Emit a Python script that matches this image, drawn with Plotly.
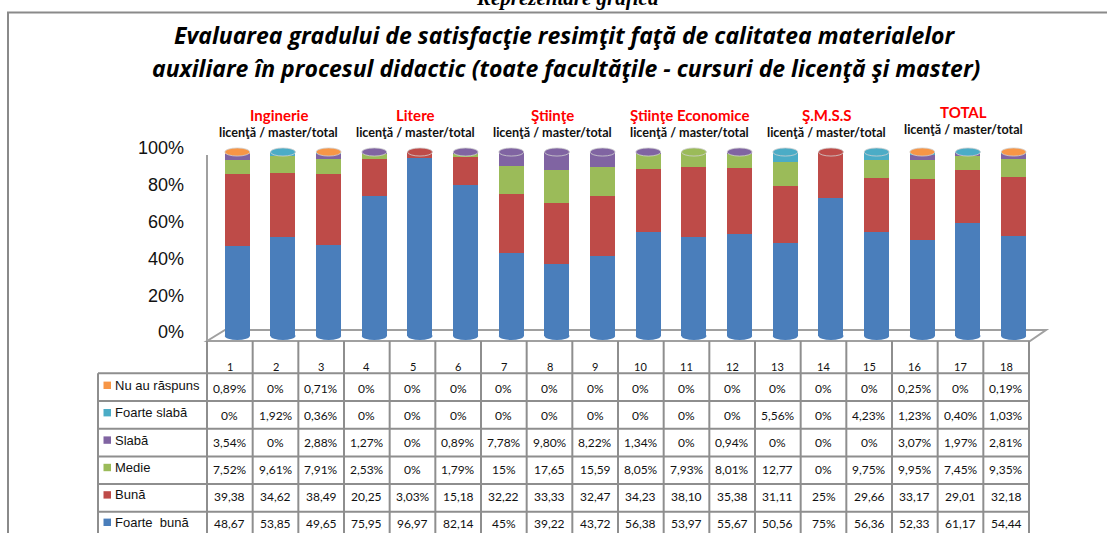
import plotly.graph_objects as go

# ---------------- data ----------------
categories = list(range(1, 19))
series_names = ["Nu au răspuns", "Foarte slabă", "Slabă", "Medie", "Bună", "Foarte  bună"]
nu_au_raspuns = [0.89, 0, 0.71, 0, 0, 0, 0, 0, 0, 0, 0, 0, 0, 0, 0, 0.25, 0, 0.19]
foarte_slaba = [0, 1.92, 0.36, 0, 0, 0, 0, 0, 0, 0, 0, 0, 5.56, 0, 4.23, 1.23, 0.40, 1.03]
slaba = [3.54, 0, 2.88, 1.27, 0, 0.89, 7.78, 9.80, 8.22, 1.34, 0, 0.94, 0, 0, 0, 3.07, 1.97, 2.81]
medie = [7.52, 9.61, 7.91, 2.53, 0, 1.79, 15, 17.65, 15.59, 8.05, 7.93, 8.01, 12.77, 0, 9.75, 9.95, 7.45, 9.35]
buna = [39.38, 34.62, 38.49, 20.25, 3.03, 15.18, 32.22, 33.33, 32.47, 34.23, 38.10, 35.38, 31.11, 25, 29.66, 33.17, 29.01, 32.18]
foarte_buna = [48.67, 53.85, 49.65, 75.95, 96.97, 82.14, 45, 39.22, 43.72, 56.38, 53.97, 55.67, 50.56, 75, 56.36, 52.33, 61.17, 54.44]
series_values = [nu_au_raspuns, foarte_slaba, slaba, medie, buna, foarte_buna]
series_colors = ["#F79646", "#4BACC6", "#8064A2", "#9BBB59", "#BE4B48", "#4A7EBB"]
group_names = ["Inginerie", "Litere", "Ştiinţe", "Ştiinţe Economice", "Ş.M.S.S", "TOTAL"]
group_centers = [2, 5, 8, 11, 14, 17]
group_sub = "licenţă / master/total"
y_ticks = [0, 20, 40, 60, 80, 100]
y_tick_labels = ["0%", "20%", "40%", "60%", "80%", "100%"]
title_line1 = "Evaluarea gradului de satisfacţie resimţit faţă de calitatea materialelor"
title_line2 = "auxiliare în procesul didactic (toate facultăţile - cursuri de licenţă şi master)"
top_caption = "Reprezentare grafică"

# ---------------- geometry ----------------
W, H = 1107, 533
L, R = 207, 1029          # plot x extent (px)
T, B = 146, 341           # plot y extent (px)
PX_PER_UNIT = 1.84        # px per percent
Y0_PX = 336               # pixel of 0%
y_top = (Y0_PX - T) / PX_PER_UNIT
y_bot = (Y0_PX - B) / PX_PER_UNIT
BAR_W = 0.547
BAR_OFF = -0.11
GRID = "#8E8E8E"


def px_x(px):
    return (px - L) / (R - L)


def px_y(py):
    return (B - py) / (B - T)


def cat_x(c):
    return (c - 0.5) / len(categories)


def fmt(v):
    if float(v).is_integer():
        return f"{int(v)}%"
    s = f"{v:.2f}".replace(".", ",")
    return s if v >= 10 else s + "%"


fig = go.Figure()
# stacked bars: bottom = Foarte bună
for name, vals, col in reversed(list(zip(series_names, series_values, series_colors))):
    fig.add_trace(go.Bar(x=categories, y=vals, name=name, marker=dict(color=col, line=dict(width=0)),
                         width=BAR_W, offset=BAR_OFF, showlegend=False, hoverinfo="skip"))

shapes = []
# outer border
shapes.append(dict(type="rect", xref="paper", yref="paper", x0=px_x(8), x1=px_x(1150),
                   y0=px_y(12.5), y1=px_y(600), line=dict(color="#8A8A8A", width=2), layer="below"))
# floor
fl = [(207, 341), (225, 330), (1046, 330), (1030, 341)]
path = "M " + " L ".join(f"{px_x(a):.5f},{px_y(b):.5f}" for a, b in fl) + " Z"
shapes.append(dict(type="path", xref="paper", yref="paper", path=path,
                   line=dict(color="#A0A0A0", width=2), fillcolor="#FFFFFF", layer="below"))
# y axis line
shapes.append(dict(type="line", xref="paper", yref="paper", x0=px_x(207), x1=px_x(207),
                   y0=px_y(155), y1=px_y(341), line=dict(color="#A0A0A0", width=2), layer="below"))
# bottom ellipses and top ellipses
for i, c in enumerate(categories):
    shapes.append(dict(type="circle", xref="x", yref="y", x0=c + BAR_OFF, x1=c + BAR_OFF + BAR_W,
                       y0=-2.2, y1=2.2, fillcolor=series_colors[-1], line=dict(width=0), layer="below"))
    top_col = series_colors[-1]
    for vals, col in zip(series_values, series_colors):
        if vals[i] > 0:
            top_col = col
            break
    shapes.append(dict(type="circle", xref="x", yref="y", x0=c + BAR_OFF, x1=c + BAR_OFF + BAR_W,
                       y0=100 - 2.2, y1=100 + 2.2, fillcolor=top_col,
                       line=dict(width=0.8, color="#D0D0D0"), layer="above"))

# table grid
ROW_TOP = 373.3
ROW_H = 27.7
TEXT_Y0, TEXT_STEP = 388.3, 27.0
LABEL_Y0, LABEL_STEP = 385.3, 27.4
for k in range(len(categories) + 1):
    xx = cat_x(k + 0.5)
    shapes.append(dict(type="line", xref="paper", yref="paper", x0=xx, x1=xx, y0=px_y(341), y1=px_y(545),
                       line=dict(color=GRID, width=2)))
shapes.append(dict(type="line", xref="paper", yref="paper", x0=px_x(98), x1=px_x(98),
                   y0=px_y(ROW_TOP), y1=px_y(545), line=dict(color=GRID, width=2)))
for r in range(len(series_names)):
    yy = px_y(ROW_TOP + r * ROW_H)
    shapes.append(dict(type="line", xref="paper", yref="paper", x0=px_x(98), x1=cat_x(18.5),
                       y0=yy, y1=yy, line=dict(color=GRID, width=2)))

ann = []
cal = "Lato, Carlito, Calibri, sans-serif"
# header numbers
for c in categories:
    ann.append(dict(x=c, xref="x", y=px_y(366), yref="paper", text=str(c), showarrow=False,
                    font=dict(family=cal, size=11, color="#111111"), xanchor="center", yanchor="middle"))
# rows
for r, (name, vals, col) in enumerate(zip(series_names, series_values, series_colors)):
    ty = TEXT_Y0 + r * TEXT_STEP
    ly = LABEL_Y0 + r * LABEL_STEP
    shapes.append(dict(type="rect", xref="paper", yref="paper", x0=px_x(103.5), x1=px_x(111),
                       y0=px_y(ly + 3.7), y1=px_y(ly - 3.7), fillcolor=col, line=dict(width=0)))
    ann.append(dict(x=px_x(113), xref="paper", y=px_y(ly), yref="paper", text=name, showarrow=False,
                    font=dict(family="Liberation Sans, Arial", size=13, color="#111111"),
                    xanchor="left", yanchor="middle"))
    for c, v in zip(categories, vals):
        ann.append(dict(x=c, xref="x", y=px_y(ty), yref="paper", text=fmt(v), showarrow=False,
                        font=dict(family=cal, size=12, color="#111111"), xanchor="center", yanchor="middle"))

# group labels
for g, gc in zip(group_names, group_centers):
    yoff = -3 if g == "TOTAL" else 0
    ann.append(dict(x=gc, xref="x", xshift=3, y=px_y(115 + yoff), yref="paper", text=g, showarrow=False,
                    font=dict(family=cal, size=15, color="#FF0000", weight="bold"),
                    xanchor="center", yanchor="middle"))
    ann.append(dict(x=gc, xref="x", xshift=3, y=px_y(132 + yoff), yref="paper", text=group_sub,
                    showarrow=False, font=dict(family=cal, size=12.6, color="#111111", weight="bold"),
                    xanchor="center", yanchor="middle"))

# titles
tfont = dict(family="Open Sans, sans-serif", size=23, color="#000000", weight="bold", style="italic")
ann.append(dict(x=px_x(567), xref="paper", y=px_y(-2), yref="paper", text=top_caption, showarrow=False,
                font=dict(family="Liberation Serif, Times New Roman", size=21, color="#000000",
                          weight="bold", style="italic"), xanchor="center", yanchor="middle"))
ann.append(dict(x=px_x(565), xref="paper", y=px_y(35), yref="paper", text=title_line1, showarrow=False,
                font=tfont, xanchor="center", yanchor="middle"))
ann.append(dict(x=px_x(566), xref="paper", y=px_y(68), yref="paper", text=title_line2, showarrow=False,
                font=tfont, xanchor="center", yanchor="middle"))

fig.update_layout(
    width=W, height=H,
    margin=dict(l=L, r=W - R, t=T, b=H - B, pad=0),
    paper_bgcolor="white", plot_bgcolor="rgba(0,0,0,0)",
    barmode="stack", bargap=0,
    shapes=shapes, annotations=ann,
    xaxis=dict(range=[0.5, 18.5], showticklabels=False, showgrid=False, zeroline=False,
               showline=False, ticks="", fixedrange=True),
    yaxis=dict(range=[y_bot, y_top], tickvals=y_ticks, ticktext=y_tick_labels, showgrid=False,
               zeroline=False, showline=False, ticks="", ticklabelstandoff=22, ticklabelshift=-4,
               fixedrange=True,
               tickfont=dict(family="Liberation Sans, Arial", size=18, color="#111111")),
)

fig.write_html("out.html", config={"displayModeBar": False, "staticPlot": True},
               post_script="document.body.style.margin='0px';")
